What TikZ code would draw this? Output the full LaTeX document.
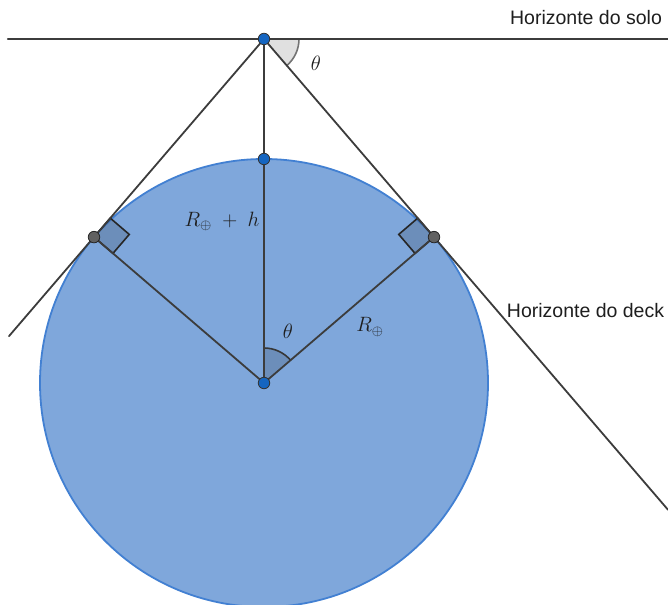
\documentclass[tikz,border=0pt]{standalone}
\usepackage{fontspec}
\newfontfamily\labelfont{Liberation Sans}
\usetikzlibrary{calc}
\definecolor{earthfill}{RGB}{127,167,219}
\definecolor{earthedge}{RGB}{66,128,210}
\definecolor{linegray}{RGB}{60,60,60}
\definecolor{ptblue}{RGB}{21,101,192}
\definecolor{ptgray}{RGB}{97,97,97}
\definecolor{txt}{RGB}{30,30,30}
\tikzset{
  geoline/.style={draw=linegray, line width=1.8pt, line cap=round},
  bluept/.style={circle, fill=ptblue, draw=black!80, line width=0.8pt, inner sep=0pt, minimum size=11.5pt},
  graypt/.style={circle, fill=ptgray, draw=black!85, line width=0.8pt, inner sep=0pt, minimum size=11.5pt},
  rightmark/.style={fill=black, fill opacity=0.15, draw=black!85, draw opacity=1, line width=1.6pt},
  anglesector/.style={line width=1.6pt},
  sidelabel/.style={font=\labelfont\fontsize{19.5}{23}\selectfont, text=txt, inner sep=0pt},
  mathlabel/.style={font=\fontsize{20}{24}\selectfont, text=txt, inner sep=0pt},
  thetalabel/.style={font=\fontsize{20}{24}\selectfont, text=txt, inner sep=0pt}
}
\begin{document}
\begin{tikzpicture}[x=1pt,y=1pt]
\useasboundingbox (0,0) rectangle (668,604);
\clip (0,0) rectangle (668,604);
% key points
\coordinate (A) at (264,565);
\coordinate (O) at (264,221);
\coordinate (T) at (264,445);
\coordinate (P) at (434,366.9);
\coordinate (Q) at (94,366.9);
\coordinate (HL) at (8,565);
\coordinate (HR) at (668,565);
\coordinate (PE) at ($(A)!2.376!(P)$);
\coordinate (QE) at ($(A)!1.5!(Q)$);
% Earth
\fill[earthfill] (O) circle[radius=224];
\draw[earthedge, line width=1.8pt] (O) circle[radius=224];
% angle sector at centre
\fill[black, fill opacity=0.15] (O) -- ++(90:35) arc[start angle=90, end angle=40.63, radius=35] -- cycle;
\draw[linegray!90!black, anglesector] ($(O)+(90:35)$) arc[start angle=90, end angle=40.63, radius=35];
% angle sector at apex
\fill[black!12] (A) -- ++(0:35) arc[start angle=0, end angle=-49.37, radius=35] -- cycle;
\draw[black!55, anglesector] ($(A)+(0:35)$) arc[start angle=0, end angle=-49.37, radius=35];
% right angle marks
\coordinate (PA) at ($(P)!25pt!(A)$);
\coordinate (PO) at ($(P)!25pt!(O)$);
\coordinate (QA) at ($(Q)!25pt!(A)$);
\coordinate (QO) at ($(Q)!25pt!(O)$);
\path[rightmark] (P) -- (PA) -- ($(PA)+(PO)-(P)$) -- (PO) -- cycle;
\path[rightmark] (Q) -- (QA) -- ($(QA)+(QO)-(Q)$) -- (QO) -- cycle;
% lines
\draw[geoline, line width=2.4pt] (HL) -- (HR);
\draw[geoline] (A) -- (PE);
\draw[geoline] (A) -- (QE);
\draw[geoline] (A) -- (O);
\draw[geoline] (O) -- (P);
\draw[geoline] (O) -- (Q);
% points
\node[bluept] (nA) at (A) {};
\node[bluept] (nT) at (T) {};
\node[bluept] (nO) at (O) {};
\node[graypt] (nP) at (P) {};
\node[graypt] (nQ) at (Q) {};
% labels
\node[thetalabel] (th1) at (316,541) {$\theta$};
\node[thetalabel] (th2) at (288,273) {$\theta$};
\node[mathlabel] (rh) at (222,383) {$R_{\oplus}\;+\;h$};
\node[mathlabel] (rr) at (370,277) {$R_{\oplus}$};
\node[sidelabel] (solo) at (586,586) {Horizonte do solo};
\node[sidelabel] (deck) at (585.5,293) {Horizonte do deck};
\end{tikzpicture}
\end{document}
